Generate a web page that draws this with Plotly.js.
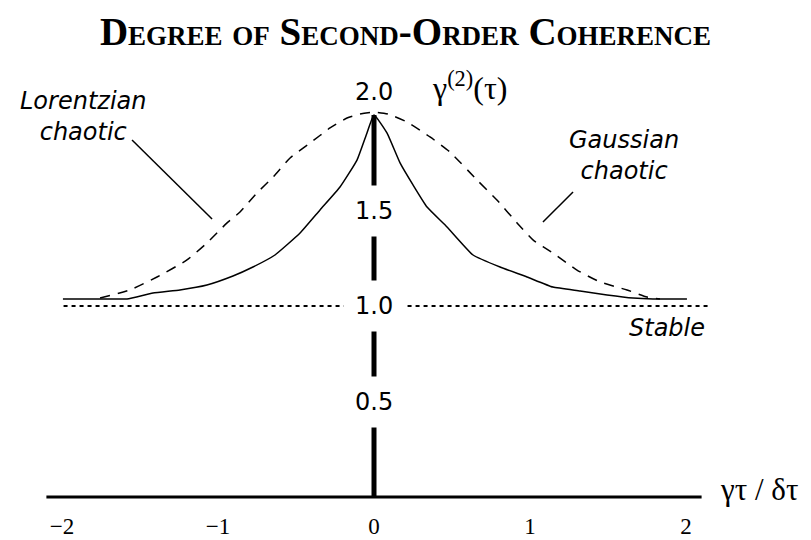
<!DOCTYPE html>
<html>
<head>
<meta charset="utf-8">
<script src="https://cdn.plot.ly/plotly-3.0.1.min.js"></script>
<style>html,body{margin:0;padding:0;background:#fff;}#chart{width:811px;height:540px;}</style>
</head>
<body>
<div id="chart"></div>
<script>
// Lorentzian chaotic (solid)
const lorX = [-1.994,-1.776,-1.583,-1.417,-1.244,-1.071,-0.904,-0.776,-0.635,-0.474,-0.346,-0.218,-0.109,-0.045,0,
              0.083,0.167,0.250,0.340,0.468,0.635,0.808,0.981,1.147,1.321,1.494,1.660,1.788,2.006];
const lorY = [1.037,1.037,1.037,1.068,1.084,1.11,1.157,1.204,1.267,1.382,1.503,1.623,1.764,1.906,2.0,
              1.906,1.749,1.634,1.518,1.414,1.267,1.204,1.152,1.099,1.079,1.058,1.042,1.037,1.037];
// Gaussian chaotic (dashed)
const gauX = [-1.756,-1.564,-1.391,-1.199,-1.071,-0.942,-0.859,-0.75,-0.647,-0.538,-0.410,-0.282,-0.173,-0.090,0,
              0.090,0.212,0.359,0.487,0.660,0.788,0.917,1.019,1.147,1.301,1.449,1.622,1.750,1.833];
const gauY = [1.042,1.084,1.152,1.241,1.33,1.435,1.492,1.592,1.675,1.775,1.853,1.932,1.984,2.005,2.015,
              2.005,1.963,1.885,1.806,1.66,1.555,1.435,1.346,1.277,1.188,1.126,1.084,1.047,1.037];
// Stable (coherent) level
const stableX = [-1.99, 2.14];
const stableY = [1.0, 1.0];
// vertical axis labels
const yTickVals = [0.5, 1.0, 1.5];
const yTickText = ["0.5", "1.0", "1.5"];
// horizontal axis labels
const xTickVals = [-2, -1, 0, 1, 2];
const xTickText = ["\u22122", "\u22121", "0", "1", "2"];

const traces = [
  {x: stableX, y: stableY, mode: 'lines', line: {color: '#000', width: 2, dash: '4px,4px'}, hoverinfo: 'skip'},
  {x: gauX, y: gauY, mode: 'lines', line: {color: '#000', width: 1.5, dash: '10px,8px', shape: 'spline', smoothing: 0.5}, hoverinfo: 'skip'},
  {x: lorX, y: lorY, mode: 'lines', line: {color: '#000', width: 1.5, shape: 'spline', smoothing: 0.4}, hoverinfo: 'skip'},
  {x: [0, 0], y: [0, 2.0], mode: 'lines', line: {color: '#000', width: 5}, hoverinfo: 'skip'}
];

const sans = 'DejaVu Sans, sans-serif';
const serif = 'Liberation Serif, serif';
const annotations = yTickVals.map((v, i) => ({
  x: 0, y: v, xref: 'x', yref: 'y', text: yTickText[i], showarrow: false,
  font: {family: sans, size: 24, color: '#000'}, bgcolor: '#fff', borderpad: 11
}));
annotations.push(
  {x: 0, y: 2.12, xref: 'x', yref: 'y', text: '2.0', showarrow: false, font: {family: sans, size: 24, color: '#000'}},
  {x: 0.609, y: 2.15, xref: 'x', yref: 'y', text: '\u03b3<sup>(2)</sup>(\u03c4)', showarrow: false, font: {family: serif, size: 32, color: '#000'}},
  {x: 2.47, y: 0.037, xref: 'x', yref: 'y', text: '\u03b3\u03c4 / \u03b4\u03c4', showarrow: false, font: {family: serif, size: 31, color: '#000'}},
  {x: -1.86, y: 1.99, xref: 'x', yref: 'y', text: '<i>Lorentzian</i><br><i>chaotic</i>', showarrow: false, align: 'center', font: {family: sans, size: 24, color: '#000'}},
  {x: 1.6, y: 1.79, xref: 'x', yref: 'y', text: '<i>Gaussian</i><br><i>chaotic</i>', showarrow: false, align: 'center', font: {family: sans, size: 24, color: '#000'}},
  {x: 1.88, y: 0.885, xref: 'x', yref: 'y', text: '<i>Stable</i>', showarrow: false, font: {family: sans, size: 24, color: '#000'}}
);

const shapes = [
  {type: 'line', xref: 'x', yref: 'y', x0: -2.10, x1: 2.10, y0: 0, y1: 0, line: {color: '#000', width: 3}},
  {type: 'line', xref: 'x', yref: 'y', x0: -1.551, y0: 1.869, x1: -1.038, y1: 1.455, line: {color: '#000', width: 1.5}},
  {type: 'line', xref: 'x', yref: 'y', x0: 1.276, y0: 1.597, x1: 1.083, y1: 1.44, line: {color: '#000', width: 1.5}}
];

const layout = {
  width: 811, height: 540,
  margin: {l: 0, r: 0, t: 0, b: 30},
  paper_bgcolor: '#fff', plot_bgcolor: '#fff',
  showlegend: false,
  title: {
    text: '<b>Degree of Second-Order Coherence</b>',
    x: 0.5, xanchor: 'center', y: 1 - 31/540, yanchor: 'middle', xref: 'paper', yref: 'container',
    font: {family: serif, size: 39, color: '#000', variant: 'small-caps'}
  },
  xaxis: {
    range: [-374/156, (811-374)/156], showgrid: false, zeroline: false, showline: false,
    tickmode: 'array', tickvals: xTickVals, ticktext: xTickText, ticks: '',
    tickfont: {family: serif, size: 23, color: '#000'}, fixedrange: true
  },
  yaxis: {
    range: [(497-510)/191, 497/191], visible: false, fixedrange: true
  },
  annotations: annotations,
  shapes: shapes
};

Plotly.newPlot('chart', traces, layout, {staticPlot: true, displayModeBar: false});
</script>
</body>
</html>
